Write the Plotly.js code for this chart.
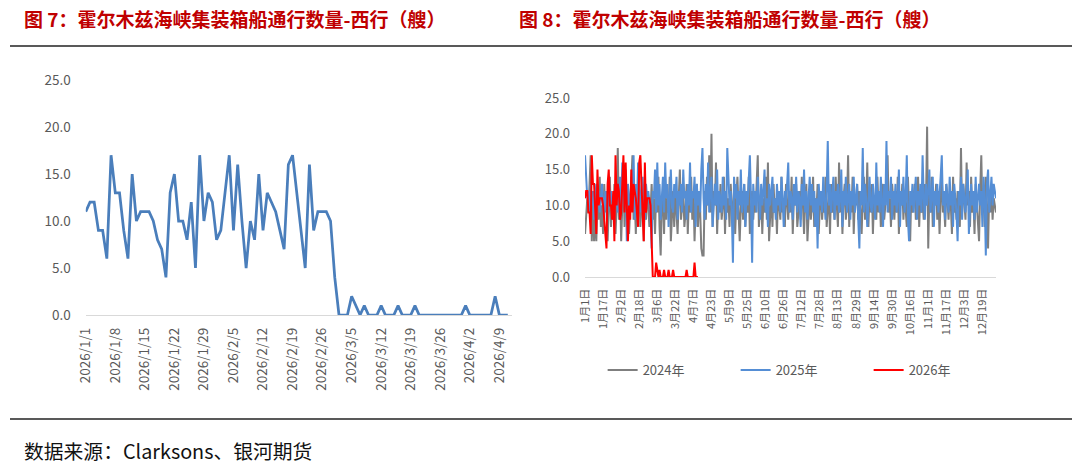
<!DOCTYPE html>
<html>
<head>
<meta charset="utf-8">
<script src="https://cdn.plot.ly/plotly-3.0.1.min.js"></script>
<style>
  html, body { margin: 0; padding: 0; background: #fff; }
  #chart { width: 1080px; height: 464px; }
</style>
</head>
<body>
<div id="chart"></div>
<script>
const FONT = '"Noto Sans CJK SC", "Noto Sans", sans-serif';

// daily westbound container-ship transits, 2026/1/1 - 2026/4/11
const westbound2026 = [
  11, 12, 12, 9, 9, 6, 17, 13, 13, 9,
  6, 15, 10, 11, 11, 11, 10, 8, 7, 4,
  13, 15, 10, 10, 8, 12, 5, 17, 10, 13,
  12, 8, 9, 13, 17, 9, 16, 10, 5, 10,
  8, 15, 9, 13, 12, 11, 9, 7, 16, 17,
  13, 9, 5, 16, 9, 11, 11, 11, 10, 4,
  0, 0, 0, 2, 1, 0, 1, 0, 0, 0,
  1, 0, 0, 0, 1, 0, 0, 0, 1, 0,
  0, 0, 0, 0, 0, 0, 0, 0, 0, 0,
  1, 0, 0, 0, 0, 0, 0, 2, 0, 0,
  0
];

// same, full year 2024 (365 days, Feb 29 left out)
const westbound2024 = [
  6, 8, 11, 9, 13, 17, 5, 12, 5, 9, 5, 11, 8, 14, 7, 10, 6, 13, 9, 12, 5, 10, 14, 7, 11, 8, 13, 6, 10, 18,
  8, 12, 5, 10, 14, 7, 11, 9, 13, 6, 10, 15, 17, 8, 11, 6, 12, 9, 14, 7, 10, 13, 5, 11, 8, 12, 10, 7, 9, 13,
  8, 11, 6, 12, 9, 14, 7, 3, 10, 12, 6, 13, 8, 11, 9, 14, 5, 10, 12, 7, 13, 9, 6, 11, 15, 8, 10, 12, 7, 9,
  13, 6, 11, 9, 14, 8, 12, 5, 10, 13, 7, 11, 9, 4, 3, 3, 12, 8, 14, 10, 17, 9, 20, 7, 12, 10, 16, 6, 11, 9,
  13, 8, 10, 14, 6, 12, 9, 11, 7, 13, 10, 8, 12, 6, 11, 14, 9, 5, 10, 12, 8, 13, 7, 11, 9, 14, 6, 10, 12, 8,
  11, 9, 13, 17, 7, 10, 12, 6, 11, 9, 14, 8, 16, 5, 10, 12, 7, 13, 9, 11, 6, 12, 10, 8, 14, 9, 11, 7, 13, 10,
  8, 12, 9, 14, 6, 11, 10, 13, 7, 9, 12, 8, 14, 10, 6, 11, 13, 5, 9, 12, 8, 10, 14, 7, 11, 9, 13, 6, 10, 12,
  8, 11, 9, 14, 7, 10, 12, 6, 13, 9, 11, 8, 14, 10, 7, 16, 9, 12, 6, 11, 13, 8, 10, 17, 7, 12, 9, 14, 6, 11,
  10, 13, 8, 12, 9, 6, 11, 14, 8, 10, 16, 7, 12, 9, 13, 6, 11, 10, 8, 14, 9, 12, 7, 11, 13, 8, 10, 12, 17, 9,
  11, 7, 13, 10, 8, 12, 9, 14, 6, 11, 10, 13, 8, 12, 9, 7, 14, 10, 5, 12, 9, 11, 13, 8, 10, 14, 7, 12, 9, 11,
  8, 13, 10, 21, 4, 12, 9, 14, 7, 11, 10, 13, 8, 12, 6, 11, 14, 9, 10, 7, 13, 11, 8, 12, 10, 6, 14, 9, 11, 8,
  12, 10, 7, 18, 9, 13, 11, 8, 16, 10, 12, 7, 14, 9, 11, 6, 13, 10, 8, 5, 12, 17, 9, 11, 7, 14, 10, 4, 12, 9,
  13, 8, 11, 10, 9
];

// same, full year 2025
const westbound2025 = [
  17, 13, 11, 12, 9, 13, 10, 12, 8, 11, 13, 10, 12, 9, 11, 13, 10, 8, 12, 11, 9, 13, 10, 12, 11, 8, 12, 10, 13, 9,
  11, 14, 9, 16, 12, 10, 15, 5, 13, 11, 9, 14, 12, 17, 8, 13, 10, 16, 11, 9, 12, 14, 10, 8, 13, 11, 12, 10, 9, 4,
  12, 11, 15, 9, 16, 10, 13, 8, 12, 14, 9, 16, 11, 13, 7, 12, 15, 10, 9, 13, 11, 14, 8, 12, 10, 13, 9, 15, 11, 12,
  8, 13, 10, 16, 9, 12, 11, 14, 7, 13, 10, 12, 9, 15, 18, 11, 8, 13, 10, 16, 9, 12, 14, 7, 11, 13, 10, 15, 8, 12,
  11, 9, 14, 10, 12, 8, 18, 13, 10, 12, 9, 2, 14, 11, 13, 8, 12, 10, 15, 9, 11, 13, 7, 12, 10, 14, 17, 11, 2, 13,
  10, 12, 9, 14, 11, 8, 13, 10, 12, 15, 9, 11, 7, 13, 10, 12, 14, 9, 11, 8, 13, 10, 12, 9, 14, 11, 7, 12, 10, 13,
  16, 9, 12, 11, 8, 13, 10, 14, 9, 12, 11, 7, 13, 10, 15, 9, 12, 8, 11, 14, 10, 13, 9, 12, 7, 11, 4, 13, 10, 12,
  9, 14, 11, 8, 12, 19, 10, 13, 9, 11, 14, 8, 12, 10, 13, 9, 11, 15, 7, 12, 10, 14, 9, 11, 13, 8, 12, 10, 14, 9,
  11, 13, 8, 4, 12, 10, 18, 9, 13, 11, 7, 12, 14, 10, 9, 13, 11, 8, 16, 10, 12, 9, 14, 11, 7, 13, 10, 19, 9, 12,
  11, 14, 8, 12, 10, 13, 9, 11, 15, 7, 12, 10, 14, 9, 11, 17, 8, 5, 12, 10, 13, 9, 11, 14, 8, 12, 10, 13, 9, 17,
  11, 8, 13, 10, 12, 15, 9, 11, 14, 7, 12, 10, 13, 9, 11, 14, 17, 10, 12, 8, 13, 11, 9, 14, 10, 12, 7, 13, 11, 9,
  5, 12, 10, 14, 8, 13, 11, 9, 12, 15, 6, 11, 13, 10, 12, 8, 14, 9, 11, 13, 10, 12, 7, 14, 11, 3, 13, 15, 9, 12,
  14, 10, 13, 12, 11
];

const ticks2026 = [
  "2026/1/1", "2026/1/8", "2026/1/15", "2026/1/22", "2026/1/29", "2026/2/5", "2026/2/12",
  "2026/2/19", "2026/2/26", "2026/3/5", "2026/3/12", "2026/3/19", "2026/3/26", "2026/4/2", "2026/4/9"
];
const ticksYear = [
  "1月1日", "1月17日", "2月2日", "2月18日", "3月6日", "3月22日", "4月7日", "4月23日",
  "5月9日", "5月25日", "6月10日", "6月26日", "7月12日", "7月28日", "8月13日", "8月29日",
  "9月14日", "9月30日", "10月16日", "11月1日", "11月17日", "12月3日", "12月19日"
];
const seriesNames = ["2024年", "2025年", "2026年"];
const seriesColors = ["#7f7f7f", "#558ed5", "#ff0000"];

// category labels: one per day
function dayLabels(year, count, fmt) {
  const out = [];
  const start = Date.UTC(year, 0, 1);
  for (let i = 0; i < count; i++) {
    const d = new Date(start + i * 86400000);
    out.push(fmt(d.getUTCFullYear(), d.getUTCMonth() + 1, d.getUTCDate()));
  }
  return out;
}

const days2026 = dayLabels(2026, westbound2026.length, (y, m, d) => `${y}/${m}/${d}`);
const daysYear = dayLabels(2025, 365, (y, m, d) => `${m}月${d}日`);

const tickFont = { family: FONT, size: 13, color: "#595959" };

const data = [
  {
    type: "scatter", mode: "lines", x: days2026, y: westbound2026,
    xaxis: "x", yaxis: "y", showlegend: false, hoverinfo: "x+y",
    line: { color: "#4a7ebb", width: 2.75 },
  },
  {
    type: "scatter", mode: "lines", name: seriesNames[0], x: daysYear, y: westbound2024,
    xaxis: "x2", yaxis: "y2", line: { color: seriesColors[0], width: 2 },
  },
  {
    type: "scatter", mode: "lines", name: seriesNames[1], x: daysYear, y: westbound2025,
    xaxis: "x2", yaxis: "y2", line: { color: seriesColors[1], width: 2 },
  },
  {
    type: "scatter", mode: "lines", name: seriesNames[2], x: daysYear.slice(0, westbound2026.length), y: westbound2026,
    xaxis: "x2", yaxis: "y2", line: { color: seriesColors[2], width: 2 },
  },
];

const layout = {
  width: 1080,
  height: 464,
  margin: { l: 0, r: 0, t: 0, b: 0, autoexpand: false },
  paper_bgcolor: "#ffffff",
  plot_bgcolor: "#ffffff",
  font: { family: FONT, color: "#595959" },
  xaxis: {
    type: "category", domain: [0.0794, 0.4741], range: [0, 101], anchor: "y",
    tickmode: "array", tickvals: ticks2026, ticktext: ticks2026, tickangle: -90,
    ticks: "", ticklabelstandoff: 6, tickfont: { ...tickFont, size: 13.5 },
    showgrid: false, zeroline: false, showline: true, linecolor: "#d9d9d9", linewidth: 1.3,
    automargin: false,
  },
  yaxis: {
    domain: [0.3211, 0.8276], range: [0, 25], dtick: 5, tickformat: ".1f", anchor: "x",
    ticks: "", ticklabelstandoff: 14, tickfont: { ...tickFont, size: 13.5 },
    showgrid: false, zeroline: false, showline: false, automargin: false,
  },
  xaxis2: {
    type: "category", domain: [0.5417, 0.9222], range: [0, 364], anchor: "y2",
    tickmode: "array", tickvals: ticksYear, ticktext: ticksYear, tickangle: -90,
    ticks: "", ticklabelstandoff: 6, tickfont: { ...tickFont, size: 11 },
    showgrid: false, zeroline: false, showline: true, linecolor: "#d9d9d9", linewidth: 1.3,
    automargin: false,
  },
  yaxis2: {
    domain: [0.4030, 0.7888], range: [0, 25], dtick: 5, tickformat: ".1f", anchor: "x2",
    ticks: "", ticklabelstandoff: 14, tickfont: tickFont,
    showgrid: false, zeroline: false, showline: false, automargin: false,
  },
  showlegend: true,
  legend: {
    orientation: "h", x: 0.558, xanchor: "left", y: 0.2026, yanchor: "middle",
    entrywidth: 88, entrywidthmode: "pixels",
    font: { family: FONT, size: 13, color: "#595959" },
    bgcolor: "rgba(0,0,0,0)",
  },
  annotations: [
    {
      xref: "paper", yref: "paper", x: 22 / 1080, y: 1 - 18 / 464, xanchor: "left", yanchor: "middle",
      showarrow: false, text: "<b>图 7：霍尔木兹海峡集装箱船通行数量-西行（艘）</b>",
      font: { family: FONT, size: 19, color: "#c00000" },
    },
    {
      xref: "paper", yref: "paper", x: 517 / 1080, y: 1 - 18 / 464, xanchor: "left", yanchor: "middle",
      showarrow: false, text: "<b>图 8：霍尔木兹海峡集装箱船通行数量-西行（艘）</b>",
      font: { family: FONT, size: 19, color: "#c00000" },
    },
    {
      xref: "paper", yref: "paper", x: 22 / 1080, y: 14 / 464, xanchor: "left", yanchor: "middle",
      showarrow: false, text: "数据来源：Clarksons、银河期货",
      font: { family: FONT, size: 19.8, color: "#111111" },
    },
  ],
  shapes: [
    { type: "line", xref: "paper", yref: "paper", x0: 10 / 1080, x1: 1072 / 1080, y0: 1 - 46 / 464, y1: 1 - 46 / 464,
      line: { color: "#222222", width: 1.5 } },
    { type: "line", xref: "paper", yref: "paper", x0: 10 / 1080, x1: 1072 / 1080, y0: 1 - 419 / 464, y1: 1 - 419 / 464,
      line: { color: "#222222", width: 1.5 } },
  ],
};

Plotly.newPlot("chart", data, layout, { displayModeBar: false, staticPlot: true });
</script>
</body>
</html>
